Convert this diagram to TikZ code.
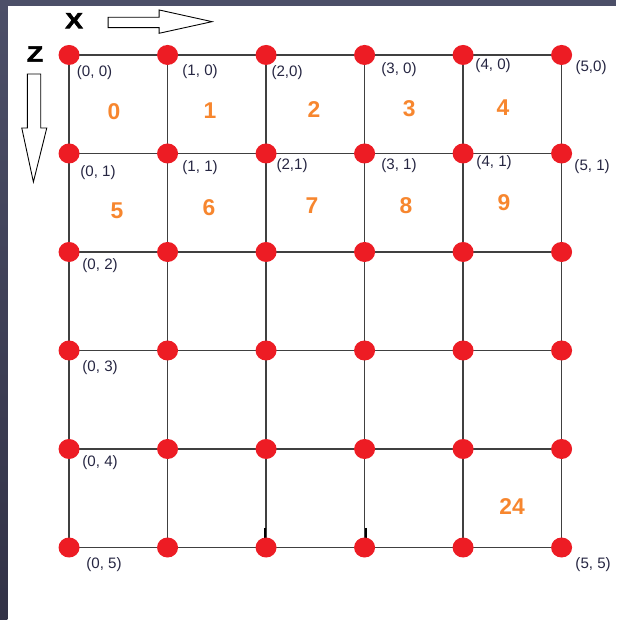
\documentclass[tikz,border=0pt]{standalone}
\usepackage{fontspec}
\setmainfont{Liberation Sans}
\newfontfamily\heavyfont{Liberation Sans}[FakeBold=2.5]
\definecolor{frametop}{RGB}{76,79,104}
\definecolor{framebot}{RGB}{50,50,70}
\definecolor{dotred}{RGB}{237,28,36}
\definecolor{cellorange}{RGB}{247,134,46}
\definecolor{labelnavy}{RGB}{38,38,66}
\definecolor{gridgray}{RGB}{64,64,64}
\tikzset{
    gridline/.style={gridgray, line width=0.8pt},
    coordlabel/.style={text=labelnavy, font=\fontsize{8.6}{10}\selectfont, inner sep=0pt},
    cellnum/.style={text=cellorange, font=\fontsize{13}{14}\selectfont\bfseries, inner sep=0pt},
    axisname/.style={font=\heavyfont\fontsize{12.5}{13}\selectfont\bfseries, inner sep=0pt},
    blockarrow/.style={draw=black, fill=white, line width=0.5pt, line join=miter},
}
\begin{document}
\begin{tikzpicture}[x=1.97cm, y=-1.97cm]
    % 1. Frame
    \useasboundingbox (-0.701,-0.558) rectangle (5.553,5.736);
    \fill[white] (-0.701,-0.558) rectangle (5.553,5.736);
    \fill[frametop] (-0.701,-0.558) rectangle (5.553,-0.497);
    \shade[top color=frametop, bottom color=framebot] (-0.701,-0.558) rectangle (-0.626,5.736);

    % 2. Grid points (x, z)
    \foreach \i in {0,...,5}
        \foreach \j in {0,...,5}
            \coordinate (p-\i-\j) at (\i,\j);

    % 3. Grid lines
    \foreach \k in {0,...,5} {
        \draw[gridline] (p-0-\k) -- (p-5-\k);
        \draw[gridline] (p-\k-0) -- (p-\k-5);
    }
    \draw[line width=1.2pt] (1.99,4.80) -- (1.99,4.93);
    \draw[line width=1.2pt] (3.01,4.80) -- (3.01,4.93);

    % 4. Red points
    \foreach \i in {0,...,5}
        \foreach \j in {0,...,5}
            \fill[dotred] (p-\i-\j) circle[x radius=0.21cm, y radius=0.2cm];

    % 5. Axis names and arrows
    \node[axisname] (xname) at (0.051,-0.348) {\scalebox{1.2}[1]{X}};
    \node[axisname] (zname) at (-0.345,-0.010) {\scalebox{1.2}[1]{Z}};
    \draw[blockarrow] (0.396,-0.383) -- (0.914,-0.383) -- (0.914,-0.457) -- (1.452,-0.338)
        -- (0.914,-0.220) -- (0.914,-0.277) -- (0.396,-0.277) -- cycle;
    \draw[blockarrow] (-0.423,0.193) -- (-0.287,0.193) -- (-0.287,0.741) -- (-0.226,0.741)
        -- (-0.362,1.289) -- (-0.480,0.741) -- (-0.423,0.741) -- cycle;

    % 6. Coordinate labels
    \node[coordlabel] (l-0-0) at (0.259,0.183) {(0, 0)};
    \node[coordlabel] (l-1-0) at (1.330,0.173) {(1, 0)};
    \node[coordlabel] (l-2-0) at (2.213,0.183) {(2,0)};
    \node[coordlabel] (l-3-0) at (3.350,0.152) {(3, 0)};
    \node[coordlabel] (l-4-0) at (4.305,0.112) {(4, 0)};
    \node[coordlabel] (l-5-0) at (5.299,0.132) {(5,0)};
    \node[coordlabel] (l-0-1) at (0.294,1.198) {(0, 1)};
    \node[coordlabel] (l-1-1) at (1.330,1.147) {(1, 1)};
    \node[coordlabel] (l-2-1) at (2.264,1.127) {(2,1)};
    \node[coordlabel] (l-3-1) at (3.350,1.127) {(3, 1)};
    \node[coordlabel] (l-4-1) at (4.315,1.096) {(4, 1)};
    \node[coordlabel] (l-5-1) at (5.310,1.137) {(5, 1)};
    \node[coordlabel] (l-0-2) at (0.315,2.142) {(0, 2)};
    \node[coordlabel] (l-0-3) at (0.315,3.178) {(0, 3)};
    \node[coordlabel] (l-0-4) at (0.315,4.142) {(0, 4)};
    \node[coordlabel] (l-0-5) at (0.355,5.178) {(0, 5)};
    \node[coordlabel] (l-5-5) at (5.320,5.178) {(5, 5)};

    % 7. Cell numbers
    \node[cellnum] (c0) at (0.457,0.579) {0};
    \node[cellnum] (c1) at (1.431,0.569) {1};
    \node[cellnum] (c2) at (2.487,0.558) {2};
    \node[cellnum] (c3) at (3.452,0.548) {3};
    \node[cellnum] (c4) at (4.406,0.538) {4};
    \node[cellnum] (c5) at (0.487,1.584) {5};
    \node[cellnum] (c6) at (1.421,1.553) {6};
    \node[cellnum] (c7) at (2.467,1.533) {7};
    \node[cellnum] (c8) at (3.421,1.533) {8};
    \node[cellnum] (c9) at (4.416,1.503) {9};
    \node[cellnum] (c24) at (4.497,4.589) {24};

\end{tikzpicture}
\end{document}
